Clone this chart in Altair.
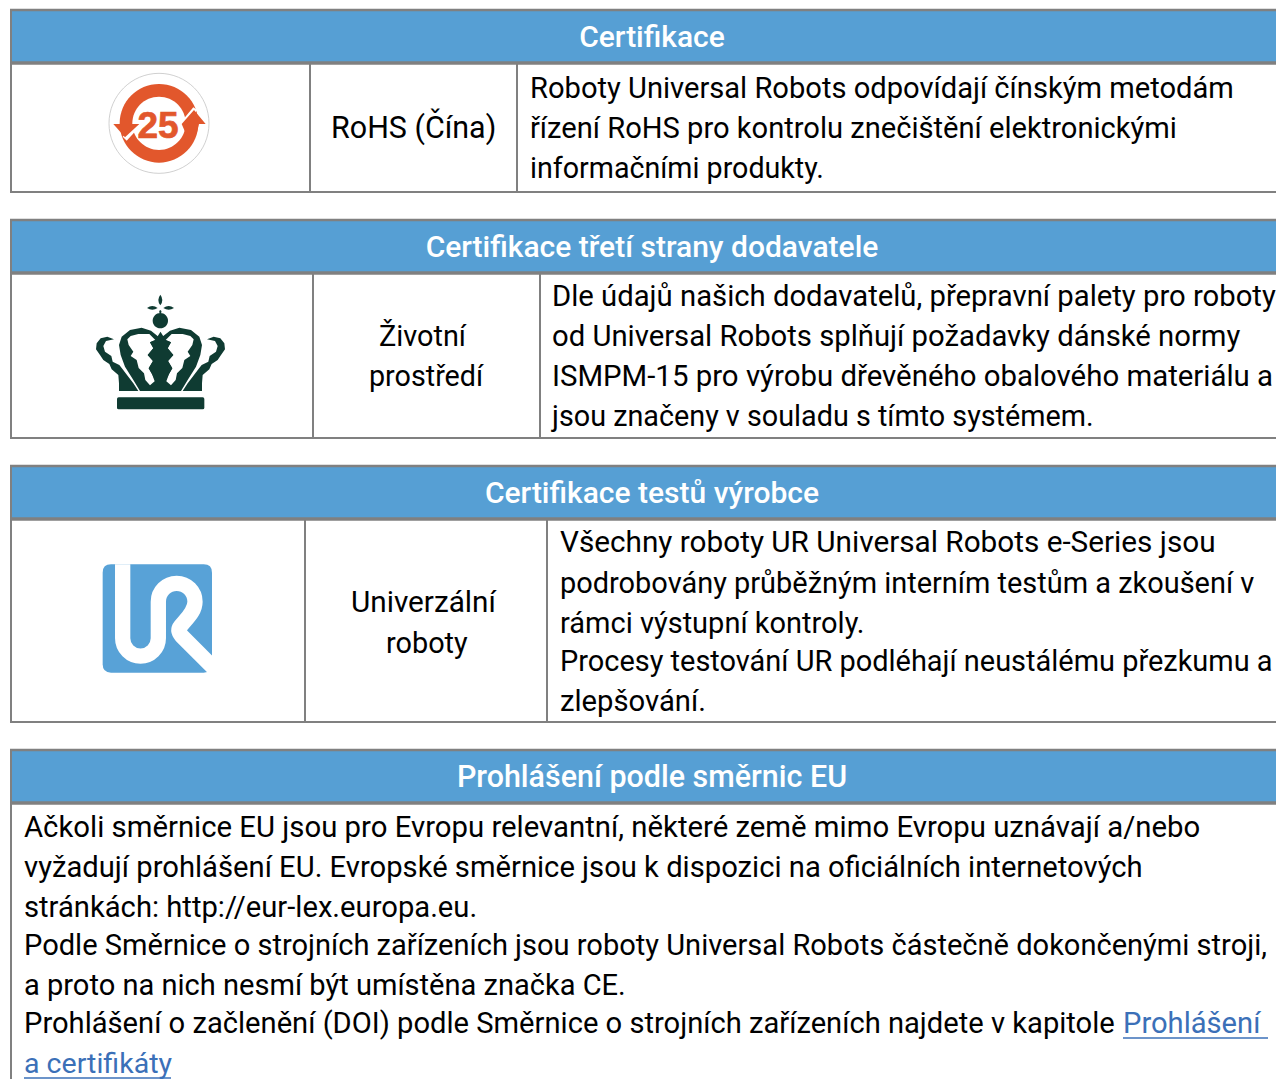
import altair as alt
import pandas as pd

W, H = 1276, 1079
M = 8
GREY = "#808080"
BLUE = "#569fd4"
LINK = "#3b70b8"
BASE_SIZE = 29.15

header_titles = ["Certifikace", "Certifikace třetí strany dodavatele",
                 "Certifikace testů výrobce", "Prohlášení podle směrnic EU"]
header_base = [47, 257, 503, 787]
header_size = [30, 30, 30, 30.45]
table_top = [10, 220, 466, 750]
header_line = [63, 273, 519, 803]
table_bottom = [192, 438, 722, 1079]
col_lines = [[310, 517], [313, 540], [305, 547], []]

text_blocks = [
    (530, [98, 138, 178], ["Roboty Universal Robots odpovídají čínským metodám",
                           "řízení RoHS pro kontrolu znečištění elektronickými",
                           "informačními produkty."]),
    (331, [138], ["RoHS (Čína)"]),
    (552, [306, 346, 386, 426], ["Dle údajů našich dodavatelů, přepravní palety pro roboty",
                                 "od Universal Robots splňují požadavky dánské normy",
                                 "ISMPM-15 pro výrobu dřevěného obalového materiálu a",
                                 "jsou značeny v souladu s tímto systémem."]),
    (379, [346], ["Životní"]),
    (369, [386], ["prostředí"]),
    (560, [552, 593, 633, 671, 711], ["Všechny roboty UR Universal Robots e-Series jsou",
                                      "podrobovány průběžným interním testům a zkoušení v",
                                      "rámci výstupní kontroly.",
                                      "Procesy testování UR podléhají neustálému přezkumu a",
                                      "zlepšování."]),
    (351, [612], ["Univerzální"]),
    (386, [653], ["roboty"]),
    (24, [837, 877, 917, 955, 995, 1033], ["Ačkoli směrnice EU jsou pro Evropu relevantní, některé země mimo Evropu uznávají a/nebo",
                                           "vyžadují prohlášení EU. Evropské směrnice jsou k dispozici na oficiálních internetových",
                                           "stránkách: http://eur-lex.europa.eu.",
                                           "Podle Směrnice o strojních zařízeních jsou roboty Universal Robots částečně dokončenými stroji,",
                                           "a proto na nich nesmí být umístěna značka CE.",
                                           "Prohlášení o začlenění (DOI) podle Směrnice o strojních zařízeních najdete v kapitole"]),
]
# per-line width trim so each line runs as long as in the reference
line_trim = [0.999, 0.999, 0.983,
             1.045,
             1.004, 1.004, 1.008, 0.987,
             0.99, 0.985,
             1.02, 0.993, 0.995, 0.993, 1.003,
             1.02, 0.99,
             1.006, 1.002, 1.002, 0.997, 0.997, 1.0]
link_texts = ["Prohlášení", "a certifikáty"]
link_trim = [1.0, 0.98]
link_x = [1123, 24]
link_base = [1033, 1073]
link_under = [(1123, 1268, 1038), (24, 171, 1078)]

X = alt.Scale(domain=[M, W], range=[0, W - M])
Y = alt.Scale(domain=[M, H], range=[0, H - M])


def xe(f="x"):
    return alt.X(f"{f}:Q", scale=X, axis=None)


def ye(f="y"):
    return alt.Y(f"{f}:Q", scale=Y, axis=None)


# ---- table frame ----
headers = pd.DataFrame({"x": [10] * 4, "x2": [W] * 4, "y": table_top, "y2": header_line})
header_rect = alt.Chart(headers).mark_rect(color=BLUE).encode(x=xe(), x2="x2:Q", y=ye(), y2="y2:Q")

h = []
for t in table_top:
    h.append((10, W, t, 2.4))
for t in header_line:
    h.append((10, W, t, 3.4))
for t in table_bottom[:3]:
    h.append((10, W, t, 2))
hr = pd.DataFrame(h, columns=["x", "x2", "y", "w"])
hrules = alt.Chart(hr).mark_rule(color=GREY).encode(
    x=xe(), x2="x2:Q", y=ye(), strokeWidth=alt.StrokeWidth("w:Q", scale=None))
v = [(11, t, b) for t, b in zip(table_top, table_bottom)]
for cols, t, l, b in zip(col_lines, table_top, header_line, table_bottom):
    for c in cols:
        v.append((c, l, b))
vr = pd.DataFrame(v, columns=["x", "y", "y2"])
vrules = alt.Chart(vr).mark_rule(color=GREY, strokeWidth=2).encode(x=xe(), y=ye(), y2="y2:Q")

# ---- text ----
rows = []
for x0, bases, lines in text_blocks:
    for b, s in zip(bases, lines):
        rows.append({"x": x0, "y": b, "t": s})
body_df = pd.DataFrame(rows)
body_df["s"] = [BASE_SIZE * k for k in line_trim]
body = alt.Chart(body_df).mark_text(
    align="left", baseline="alphabetic", font="Roboto", color="#000000"
).encode(x=xe(), y=ye(), text="t:N", size=alt.Size("s:Q", scale=None, legend=None))
head = alt.Chart(pd.DataFrame({"x": [652] * 4, "y": header_base, "t": header_titles, "s": header_size})).mark_text(
    align="center", baseline="alphabetic", font="Roboto", fontWeight=500, color="#ffffff"
).encode(x=xe(), y=ye(), text="t:N", size=alt.Size("s:Q", scale=None, legend=None))
links = alt.Chart(pd.DataFrame({"x": link_x, "y": link_base, "t": link_texts,
                                "s": [BASE_SIZE * k for k in link_trim]})).mark_text(
    align="left", baseline="alphabetic", font="Roboto", color=LINK
).encode(x=xe(), y=ye(), text="t:N", size=alt.Size("s:Q", scale=None, legend=None))
under = alt.Chart(pd.DataFrame(link_under, columns=["x", "x2", "y"])).mark_rule(color=LINK, strokeWidth=1.5).encode(
    x=xe(), x2="x2:Q", y=ye())


# ---- icons: paths in 3x-zoomed units anchored at a crop origin ----
def poly(pts):
    return "M" + " L".join(f"{a},{b}" for a, b in pts) + " Z"


def circle(cx, cy, r):
    return f"M{cx-r},{cy} A{r},{r} 0 1 1 {cx+r},{cy} A{r},{r} 0 1 1 {cx-r},{cy} Z"


def mirror(pts, axis=543):
    return [(axis - a, b) for a, b in pts]


ORANGE = "#e2572c"
DARK = "#0f3b32"
URB = "#58a2d7"

icons = []


def add(ox, oy, path, fill):
    icons.append({"x": ox, "y": oy, "p": path, "f": fill})


# RoHS badge
add(0, 0, circle(477, 370, 118), ORANGE)
add(0, 0, circle(477, 370, 80), "#ffffff")
add(0, 0, poly([(538, 372), (580, 322), (592, 330), (552, 378)]), "#ffffff")
add(0, 0, poly([(368, 410), (412, 366), (424, 374), (380, 422)]), "#ffffff")
add(0, 0, poly([(545, 372), (582, 330), (617, 372), (597, 372), (590, 400), (557, 400)]), ORANGE)
add(0, 0, poly([(340, 372), (359, 372), (397, 372), (418, 372), (375, 412)]), ORANGE)

# crown
lo = [(132, 178), (112, 170), (92, 175), (80, 190), (78, 208), (90, 225), (100, 240), (118, 252), (125, 268),
      (145, 285), (147, 310), (147, 333), (205, 333), (190, 310), (175, 290), (158, 268), (148, 255), (128, 245),
      (124, 228), (105, 215), (100, 198), (108, 183)]
arch = [(243, 152), (215, 143), (180, 150), (155, 170), (147, 195), (152, 225), (165, 260), (190, 300), (210, 333)]
arch_full = arch + [(333, 333)] + mirror(arch)[::-1] + [(271, 175)]
center_half = [(271.5, 155), (256, 180), (240, 187), (250, 205), (233, 225), (249, 243), (236, 265), (246, 282),
               (258, 305), (258, 333)]
leaf = [(238, 162), (205, 162), (182, 168), (172, 178), (176, 195), (190, 215), (182, 228), (200, 240), (206, 264),
        (222, 280), (226, 300), (240, 316), (254, 304)] + center_half[1:8][::-1]
for path, col in [
    (poly(lo), DARK), (poly(mirror(lo)), DARK), (poly(arch_full), DARK),
    (poly(leaf), "#ffffff"), (poly(mirror(leaf)), "#ffffff"),
    (poly(center_half + mirror(center_half)[::-1][:-1]), DARK),
    (circle(271, 122, 23), DARK),
    ("M271,44 Q283,60 271,76 Q259,60 271,44 Z", DARK),
    ("M231,84 Q247,72 263,84 Q247,94 231,84 Z", DARK),
    ("M280,84 Q296,72 312,84 Q296,94 280,84 Z", DARK),
    ("M271,90 Q278,95 271,102 Q264,95 271,90 Z", DARK),
    ("M146,352 L398,352 Q403,352 403,357 L403,383 Q403,388 398,388 L146,388 Q141,388 141,383 L141,357 Q141,352 146,352 Z", DARK),
]:
    add(70, 280, path, col)

# UR logo
add(80, 550, "M93,43 L371,43 Q396,43 396,68 L396,343 Q396,368 371,368 L93,368 Q68,368 68,343 L68,68 Q68,43 93,43 Z", URB)

icon_df = pd.DataFrame(icons)
icon_layer = alt.Chart(icon_df).mark_point(filled=True, opacity=1, strokeWidth=0).encode(
    x=xe(), y=ye(), shape=alt.Shape("p:N", scale=None, legend=None),
    fill=alt.Fill("f:N", scale=None, legend=None), size=alt.value(4 / 9),
    order=alt.Order("i:Q"),
).transform_window(i="row_number()")

ring = alt.Chart(pd.DataFrame({"x": [0], "y": [0], "p": [circle(477, 370, 150)]})).mark_point(
    filled=False, opacity=1, color="#c4c4c4", strokeWidth=0.8
).encode(x=xe(), y=ye(), shape=alt.Shape("p:N", scale=None, legend=None), size=alt.value(4 / 9))

ur_path = ("M128,43 L128,265 A53.5,53.5 0 0 0 235,265 L235,155 A55,55 0 0 1 345,155 "
           "C345,185 320,205 302,228 C294,238 294,245 305,258 L430,383")
ur_stroke = alt.Chart(pd.DataFrame({"x": [80], "y": [550], "p": [ur_path]})).mark_point(
    filled=False, opacity=1, color="#ffffff", strokeWidth=15.3
).encode(x=xe(), y=ye(), shape=alt.Shape("p:N", scale=None, legend=None), size=alt.value(4 / 9))

badge_text = alt.Chart(pd.DataFrame({"x": [158], "y": [138], "t": ["25"]})).mark_text(
    align="center", baseline="alphabetic", font="Liberation Sans", fontWeight="bold",
    fontSize=37, color=ORANGE, stroke=ORANGE, strokeWidth=0.7
).encode(x=xe(), y=ye(), text="t:N")

chart = alt.layer(
    header_rect, hrules, vrules, ring, icon_layer, ur_stroke, badge_text, head, body, links, under
).properties(
    width=W - M, height=H - M, padding=0, autosize=alt.AutoSizeParams(type="none"), background="#ffffff"
).configure_view(stroke="transparent", strokeWidth=0)

chart.save("out.html", embed_options={"renderer": "svg", "actions": False})
